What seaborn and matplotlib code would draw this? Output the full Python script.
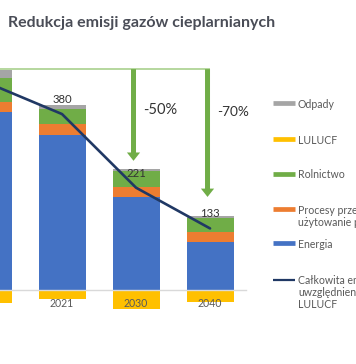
import numpy as np
import pandas as pd
import matplotlib
matplotlib.use("Agg")
import matplotlib.pyplot as plt
import seaborn as sns
from matplotlib.lines import Line2D

# ---------------- data ----------------
years = ["1990", "2021", "2030", "2040"]
energia = [384, 334, 200, 104]
procesy = [22, 24, 22, 21]
rolnictwo = [52, 33, 35, 30]
odpady = [17, 8, 5, 4]
lulucf = [-28, -19, -41, -26]
total_net = [447, 380, 221, 133]
reduction_labels = ["-50%", "-70%"]

title = "Redukcja emisji gazów cieplarnianych"
legend_labels = [
    ["Odpady"],
    ["LULUCF"],
    ["Rolnictwo"],
    ["Procesy przemysłowe i", "użytowanie produktów"],
    ["Energia"],
    ["Całkowita emisja z", "uwzględnieniem", "LULUCF"],
]

# ---------------- style ----------------
C_BLUE = "#4472C4"
C_ORANGE = "#ED7D31"
C_GREEN = "#70AD47"
C_GRAY = "#A5A5A5"
C_YELLOW = "#FFC000"
C_NAVY = "#203864"
C_LIGHTGREEN = "#A9D18E"
TXT = "#333333"
TXT2 = "#595959"

sns.set_style("white")
plt.rcParams["font.family"] = ["Lato", "DejaVu Sans"]

W, H = 356, 364
fig = plt.figure(figsize=(W / 100, H / 100), dpi=100)

# axes: pixel 0..246 horizontally, 40..330 from top vertically
ax = fig.add_axes([0, (H - 330) / H, 246 / W, 290 / H])

pos = np.arange(len(years))
df = pd.DataFrame({"pos": pos, "energia": energia, "procesy": procesy,
                   "rolnictwo": rolnictwo, "odpady": odpady, "lulucf": lulucf,
                   "net": total_net})

bottom = np.zeros(len(years))
for col, c in [("energia", C_BLUE), ("procesy", C_ORANGE),
               ("rolnictwo", C_GREEN), ("odpady", C_GRAY)]:
    sns.barplot(data=df, x="pos", y=col, native_scale=True, width=0.635,
                color=c, saturation=1, errorbar=None, bottom=bottom,
                linewidth=0, ax=ax)
    bottom = bottom + df[col].values
gross = bottom.copy()

sns.barplot(data=df, x="pos", y="lulucf", native_scale=True, width=0.635,
            color=C_YELLOW, saturation=1, errorbar=None, linewidth=0, ax=ax)

sns.lineplot(data=df, x="pos", y="net", color=C_NAVY, linewidth=1.9, ax=ax,
             zorder=4)

ax.set_axisbelow(False)
for s in ["left", "right", "top"]:
    ax.spines[s].set_visible(False)
ax.spines["bottom"].set_position(("data", 0))
ax.spines["bottom"].set_color("#D9D9D9")
ax.spines["bottom"].set_linewidth(1.0)
ax.set_yticks([])
ax.set_xticks(pos)
ax.set_xticklabels(years)
ax.tick_params(axis="x", length=0, pad=5.5, labelsize=7.6, labelcolor=TXT2)
ax.set_xlabel("")
ax.set_ylabel("")

# limits (after ticks): 74 px per category, 0.463 px per unit, zero at 290 px
XL = (0.162, 3.486)
ax.set_xlim(*XL)
ax.set_ylim(-(330 - 290) / 0.463, (290 - 40) / 0.463)

# value labels above the line
for i, v in enumerate(total_net):
    ax.annotate(str(v), xy=(pos[i], v), xytext=(0, 10.5),
                textcoords="offset points", ha="center", va="center",
                fontsize=8.2, color=TXT, zorder=5)

# reduction reference line and arrows
ref = gross[0]
ax.plot([XL[0], 3.0], [ref + 2, ref + 2], color=C_LIGHTGREEN, lw=1.2,
        zorder=3, solid_capstyle="butt")
arrow_x = [1.966, 2.966]
arrow_end = [279, 201]
text_xy = [(2.324, 389), (3.311, 384)]
text_sizes = [10.5, 9.8]
for ax_x, y_end, lab, (tx, ty), fs in zip(arrow_x, arrow_end, reduction_labels,
                                          text_xy, text_sizes):
    ax.annotate("", xy=(ax_x, y_end), xytext=(ax_x, ref + 2),
                arrowprops=dict(arrowstyle="simple,head_length=0.6,head_width=0.95,tail_width=0.36",
                                color=C_GREEN, lw=0, shrinkA=0, shrinkB=0,
                                mutation_scale=10),
                zorder=3)
    ax.text(tx, ty, lab, ha="center", va="center", fontsize=fs, color=TXT)

ax.set_xlim(*XL)

# title
fig.text(8 / W, (H - 27) / H, title, ha="left", va="baseline",
         fontsize=11.5, fontweight="bold", color="#4A4D57")

# legend (drawn manually)
handle_colors = [C_GRAY, C_YELLOW, C_GREEN, C_ORANGE, C_BLUE, C_NAVY]
first_y = [103, 139, 174, 209, 243, 280]
for lines, c, y0 in zip(legend_labels, handle_colors, first_y):
    lw = 1.6 if c == C_NAVY else 3.4
    fig.add_artist(Line2D([273 / W, 295 / W], [(H - y0) / H, (H - y0) / H],
                          color=c, lw=lw, solid_capstyle="butt"))
    for k, t in enumerate(lines):
        fig.text(298 / W, (H - (y0 + 12 * k)) / H, t, ha="left",
                 va="center_baseline", fontsize=7.6, color=TXT2)

fig.savefig("out.png", dpi=100, facecolor="white")
